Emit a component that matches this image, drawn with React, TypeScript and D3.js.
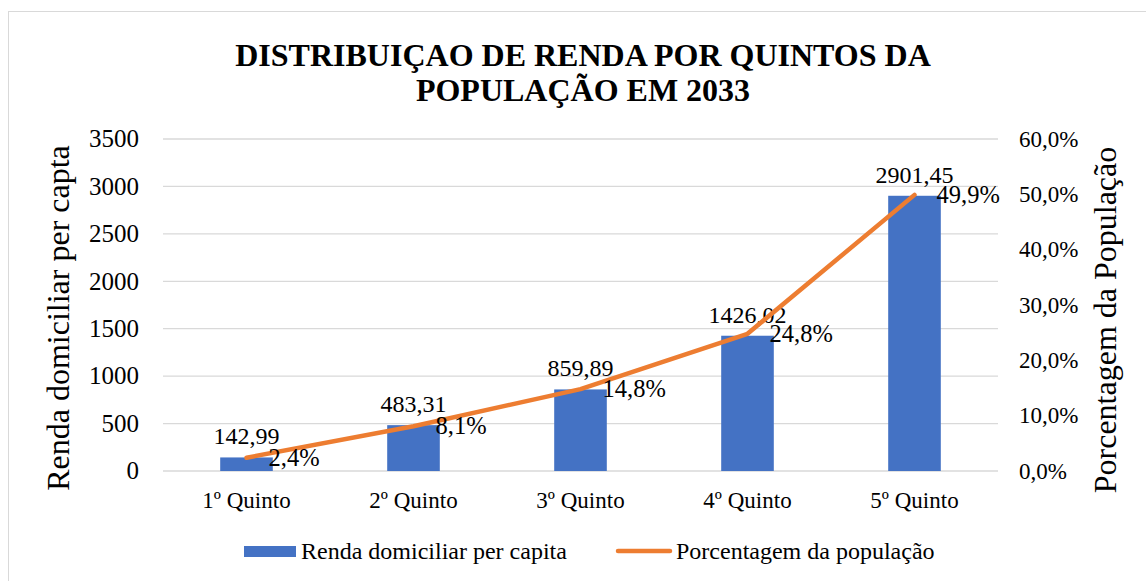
import React from 'react';
import * as d3 from 'd3';

const categories = ['1º Quinto', '2º Quinto', '3º Quinto', '4º Quinto', '5º Quinto'];
const renda = [142.99, 483.31, 859.89, 1426.02, 2901.45];
const porcentagem = [2.4, 8.1, 14.8, 24.8, 49.9];
const leftTicks = [0, 500, 1000, 1500, 2000, 2500, 3000, 3500];
const rightTicks = [0, 10, 20, 30, 40, 50, 60];

const W = 1146;
const H = 581;
const serif = { fontFamily: "'Liberation Serif', 'Times New Roman', Times, serif" };
const blue = '#4472C4';
const orange = '#ED7D31';

const fmtRenda = (v: number) => v.toFixed(2).replace('.', ',');
const fmtPct = (v: number) => v.toFixed(1).replace('.', ',') + '%';

const App = () => {
  const x = d3.scaleBand().domain(categories).range([163, 998]).paddingInner(0.685).paddingOuter(0.3425);
  const yL = d3.scaleLinear().domain([0, 3500]).range([471, 139]);
  const yR = d3.scaleLinear().domain([0, 60]).range([471, 139]);
  const cx = (c: string) => (x(c) ?? 0) + x.bandwidth() / 2;

  const line = d3
    .line<number>()
    .x((_, i) => cx(categories[i]))
    .y((d) => yR(d));

  return (
    <svg width={W} height={H} style={{ position: 'absolute', left: 0, top: 0, background: '#fff' }}>
      <rect x={8.5} y={11.5} width={W + 10} height={H + 10} fill="#fff" stroke="#D9D9D9" />

      <text x={583} y={66} textAnchor="middle" fontSize={32} fontWeight="bold" style={serif}>
        DISTRIBUIÇAO DE RENDA POR QUINTOS DA
      </text>
      <text x={583} y={101} textAnchor="middle" fontSize={32} fontWeight="bold" style={serif}>
        POPULAÇÃO EM 2033
      </text>

      {leftTicks.map((t) => (
        <g key={t}>
          <line x1={163} x2={998} y1={yL(t)} y2={yL(t)} stroke="#D9D9D9" strokeWidth={1.3} />
          <text x={139} y={yL(t)} dy="0.33em" textAnchor="end" fontSize={25} style={serif}>
            {t}
          </text>
        </g>
      ))}
      {rightTicks.map((t) => (
        <text key={t} x={1019} y={yR(t)} dy="0.33em" textAnchor="start" fontSize={23} style={serif}>
          {fmtPct(t)}
        </text>
      ))}

      {categories.map((c, i) => (
        <g key={c}>
          <rect x={x(c)} y={yL(renda[i])} width={x.bandwidth()} height={yL(0) - yL(renda[i])} fill={blue} />
          <text x={cx(c)} y={yL(renda[i]) - 13} textAnchor="middle" fontSize={24} style={serif}>
            {fmtRenda(renda[i])}
          </text>
          <text x={cx(c)} y={508} textAnchor="middle" fontSize={23} style={serif}>
            {c}
          </text>
        </g>
      ))}

      <path d={line(porcentagem) ?? ''} fill="none" stroke={orange} strokeWidth={4.5} strokeLinecap="round" strokeLinejoin="round" />
      {categories.map((c, i) => (
        <text key={c} x={cx(c) + 22} y={yR(porcentagem[i])} dy="0.33em" textAnchor="start" fontSize={24.5} style={serif}>
          {fmtPct(porcentagem[i])}
        </text>
      ))}

      <text transform={`translate(69,318) rotate(-90)`} textAnchor="middle" fontSize={32} style={serif}>
        Renda domiciliar per capta
      </text>
      <text transform={`translate(1116,320) rotate(-90)`} textAnchor="middle" fontSize={32} style={serif}>
        Porcentagem da População
      </text>

      <rect x={244} y={546} width={52} height={11} fill={blue} />
      <text x={301} y={559} fontSize={24} style={serif}>
        Renda domiciliar per capita
      </text>
      <line x1={618} x2={670} y1={551} y2={551} stroke={orange} strokeWidth={4.5} strokeLinecap="round" />
      <text x={676} y={559} fontSize={24} style={serif}>
        Porcentagem da população
      </text>
    </svg>
  );
};

export default App;
